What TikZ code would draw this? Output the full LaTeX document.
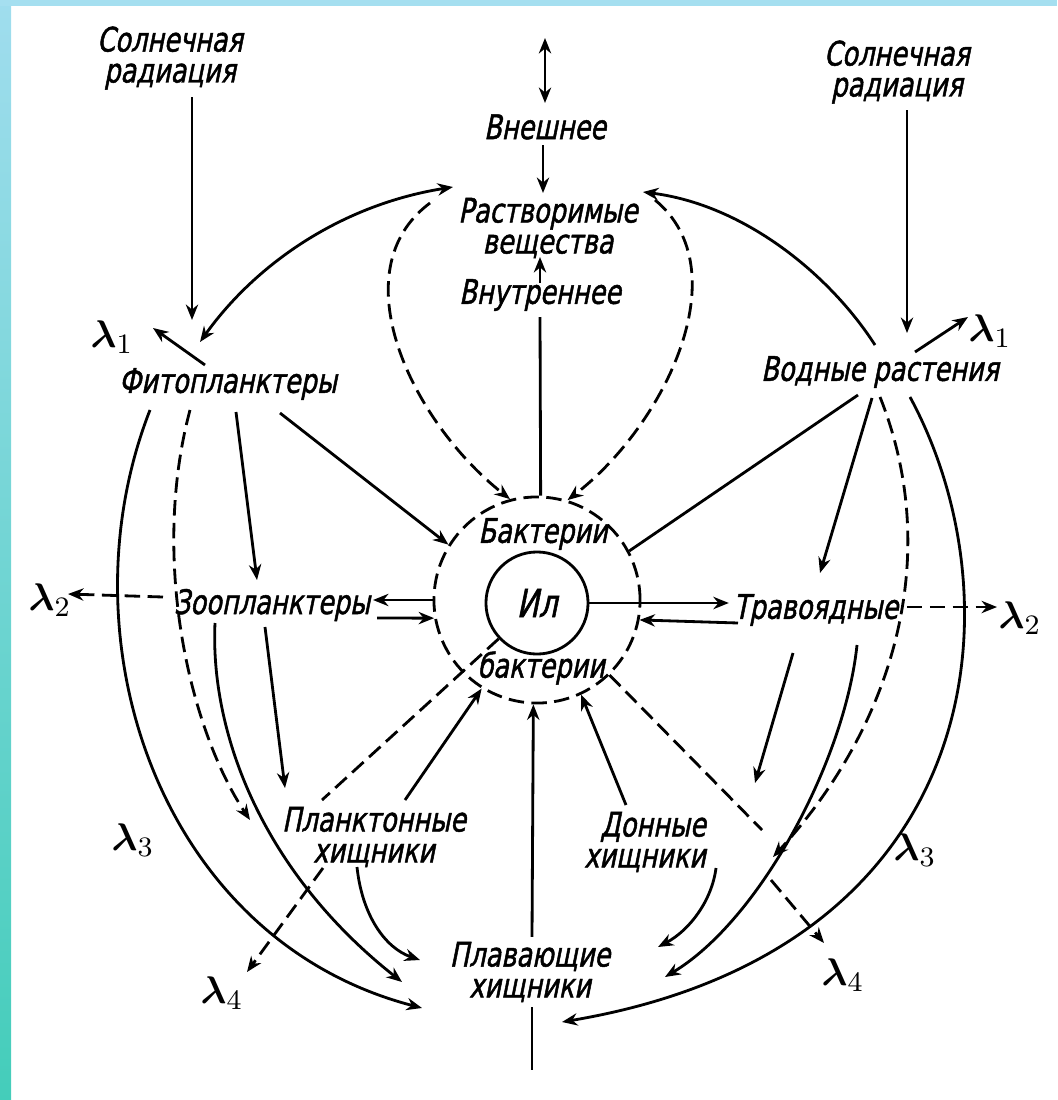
\documentclass[tikz,border=0pt]{standalone}
\usepackage{fontspec}
\usepackage{bm}
\newfontfamily\lblfont{DejaVu Sans}[FakeStretch=0.76, FakeSlant=0.2, RawFeature={embolden=1.4}]
\usetikzlibrary{arrows.meta,calc}

\definecolor{stripT}{RGB}{160,221,238}
\definecolor{stripB}{RGB}{68,205,186}
\definecolor{stripTop}{RGB}{165,223,240}

\tikzset{
	lbl/.style={font=\lblfont\fontsize{9.6}{8.8}\selectfont, align=center, inner sep=1pt},
	lam/.style={font=\fontsize{11}{11}\selectfont, inner sep=0pt},
	arr/.style={-{Stealth[length=4.4pt,width=3.5pt]}},
	darr/.style={{Stealth[length=4.4pt,width=3.5pt]}-{Stealth[length=4.4pt,width=3.5pt]}},
	dsh/.style={dash pattern=on 4.4pt off 2.1pt},
}

\begin{document}
\begin{tikzpicture}[x=0.01cm,y=-0.01cm,line width=0.8pt]
		\useasboundingbox (0,0) rectangle (1057,1100);
		% frame strips
		\fill[top color=stripT, bottom color=stripB, draw=none] (0,0) rectangle (11,1100);
		\fill[stripTop] (0,0) rectangle (1057,6);

		% labels
		\node[lbl] (sunL) at (170,58) {Солнечная\\радиация};
		\node[lbl] (sunR) at (897,72) {Солнечная\\радиация};
		\node[lbl] (ext) at (545,127) {Внешнее};
		\node[lbl] (sol) at (548,228) {Растворимые\\вещества};
		\node[lbl] (int) at (540,295) {Внутреннее};
		\node[lbl] (phyto) at (228,384) {Фитопланктеры};
		\node[lbl] (water) at (880,372) {Водные растения};
		\node[lbl] (zoo) at (272,605) {Зоопланктеры};
		\node[lbl] (herb) at (816,610) {Травоядные};
		\node[lbl] (plank) at (374,837) {Планктонные\\хищники};
		\node[lbl,align=right] (benth) at (645,842) {Донные\\хищники};
		\node[lbl] (swim) at (530,972) {Плавающие\\хищники};
		\coordinate (outside) at (545,38);
		\coordinate (seabed) at (532,1070);

		% bottom mud
		\node[draw,dsh,circle,minimum size=2.06cm,inner sep=0pt] (bac) at (537,600) {};
		\node[lbl,font=\lblfont\fontsize{11}{11}\selectfont,draw,circle,minimum size=1.02cm,inner sep=0pt] (il) at (537,603) {Ил};
		\node[lbl] (bacT) at (543,534) {Бактерии};
		\node[lbl] (bacB) at (541,668) {бактерии};

		\node[lam] (l1L) at (112,337) {$\bm{\lambda}_1$};
		\node[lam] (l1R) at (990,331) {$\bm{\lambda}_1$};
		\node[lam] (l2L) at (50,600) {$\bm{\lambda}_2$};
		\node[lam] (l2R) at (1020,618) {$\bm{\lambda}_2$};
		\node[lam] (l3L) at (133,840) {$\bm{\lambda}_3$};
		\node[lam] (l3R) at (915,850) {$\bm{\lambda}_3$};
		\node[lam] (l4L) at (222,993) {$\bm{\lambda}_4$};
		\node[lam] (l4R) at (843,975) {$\bm{\lambda}_4$};

		% top
		\draw[darr] (outside) -- ($(ext)+(0,-24)$);
		\draw[arr] ($(ext)+(-2,18)$) -- ($(sol)+(-5,-35)$);
		\draw[arr] ($(int)+(0,-12)$) -- ($(sol)+(-8,29)$);
		\draw (bac.88) -- ($(int)+(0,22)$);
		\draw[arr] ($(sunL)+(22,39)$) -- ($(phyto)+(-36,-64)$);
		\draw[arr] ($(sunR)+(10,38)$) -- ($(water)+(27,-39)$);
		\draw[arr] ($(phyto)+(-23,-19)$) -- ($(l1L)+(41,-9)$);
		\draw[arr] ($(water)+(35,-20)$) -- ($(l1R)+(-22,-14)$);
		\draw[darr] ($(sol)+(-95,-41)$) .. controls (340,205) and (255,265) .. ($(phyto)+(-28,-42)$);
		\draw[arr] ($(water)+(-5,-27)$) .. controls (830,275) and (745,205) .. ($(sol)+(95,-36)$);
		\draw[arr,dsh] ($(sol)+(-118,-25)$) .. controls (340,270) and (410,420) .. (bac.105);
		\draw[arr,dsh] ($(sol)+(107,-28)$) .. controls (740,270) and (665,425) .. (bac.73);

		% left side
		\draw[arr] ($(phyto)+(52,29)$) -- (bac.148);
		\draw[arr] ($(phyto)+(8,28)$) -- ($(zoo)+(-15,-25)$);
		\draw[arr] (bac.180) -- ($(zoo)+(101,-5)$);
		\draw[arr] ($(zoo)+(105,13)$) -- (bac.190);
		\draw[arr,dsh] ($(zoo)+(-109,-8)$) -- ($(l2L)+(18,-6)$);
		\draw[arr] ($(phyto)+(-78,26)$) .. controls (60,640) and (160,940) .. ($(swim)+(-108,36)$);
		\draw[arr,dsh] ($(phyto)+(-38,26)$) .. controls (150,560) and (190,730) .. ($(plank)+(-124,-17)$);
		\draw[arr] ($(zoo)+(-57,18)$) .. controls (210,730) and (260,870) .. ($(swim)+(-128,10)$);
		\draw[arr] ($(zoo)+(-7,22)$) -- ($(plank)+(-89,-49)$);
		\draw[arr] ($(plank)+(-17,30)$) .. controls (362,915) and (385,948) .. ($(swim)+(-110,-12)$);
		\draw[arr] ($(plank)+(31,-37)$) -- (bac.238);
		\draw[dsh] (il.223) -- ($(plank)+(-52,-37)$);
		\draw[arr,dsh] ($(plank)+(-51,31)$) -- ($(l4L)+(25,-21)$);

		% right side
		\draw ($(water)+(-22,23)$) -- (bac.28);
		\draw[arr] ($(water)+(-8,26)$) -- ($(herb)+(4,-37)$);
		\draw[arr] (il.east) -- (il.east -| herb.west);
		\draw[arr] ($(herb)+(-78,13)$) -- (bac.349);
		\draw[arr,dsh] ($(herb)+(91,-3)$) -- ($(l2R)+(-23,-11)$);
		\draw[arr] ($(water)+(30,25)$) .. controls (1020,600) and (990,950) .. ($(swim)+(32,50)$);
		\draw[arr,dsh] ($(water)+(0,25)$) .. controls (945,560) and (890,730) .. ($(benth)+(128,15)$);
		\draw[arr] ($(herb)+(41,35)$) .. controls (845,760) and (760,920) .. ($(swim)+(135,5)$);
		\draw[arr] ($(herb)+(-23,43)$) -- ($(benth)+(110,-59)$);
		\draw[arr] ($(benth)+(-19,-37)$) -- (bac.295);
		\draw[arr] ($(benth)+(71,26)$) .. controls (712,900) and (690,930) .. ($(swim)+(128,-25)$);
		\draw[dsh] (bac.314) -- ($(benth)+(117,-12)$);
		\draw[arr,dsh] ($(benth)+(126,38)$) -- ($(l4R)+(-19,-32)$);

		% bottom
		\draw[arr] (swim.north -| seabed) -- (bac.268);
		\draw (swim.south -| seabed) -- (seabed);
	\end{tikzpicture}
\end{document}
